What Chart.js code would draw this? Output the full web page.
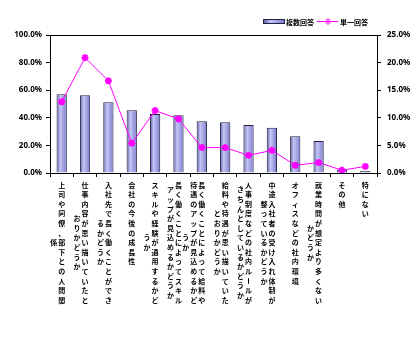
<!DOCTYPE html>
<html>
<head>
<meta charset="utf-8">
<script src="https://cdn.jsdelivr.net/npm/chart.js@4.4.0/dist/chart.umd.min.js"></script>
<style>
html, body { margin: 0; padding: 0; background: #fff; }
</style>
</head>
<body>
<canvas id="myChart" width="414" height="359"></canvas>
<script>
// categories (vertical text, wrapped every 13 chars like the original)
const categories = [
    '上司や同僚、部下との人間関係',
    '仕事内容が思い描いていたとおりかどうか',
    '入社先で長く働くことができるかどうか',
    '会社の今後の成長性',
    'スキルや経験が通用するかどうか',
    '長く働くことによってスキルアップが見込めるかどうか',
    '長く働くことによって給料や待遇のアップが見込めるかどうか',
    '給料や待遇が思い描いていたとおりかどうか',
    '人事制度などの社内ルールがきちんとしているかどうか',
    '中途入社者の受け入れ体制が整っているかどうか',
    'オフィスなどの社内環境',
    '就業時間が想定より多くないかどうか',
    'その他',
    '特にない'
];
const multiAnswer = [57.0, 56.3, 51.3, 45.5, 42.8, 41.9, 37.5, 36.8, 34.7, 32.7, 26.7, 23.1, 2.6, 1.4];
const singleAnswer = [12.9, 20.9, 16.7, 5.4, 11.3, 9.8, 4.6, 4.6, 3.2, 4.1, 1.4, 1.9, 0.5, 1.2];
const leftTicks = [0, 20, 40, 60, 80, 100];
const rightTicks = [0, 5, 10, 15, 20, 25];
const seriesNames = ['複数回答', '単一回答'];

const BAR_PCT = 0.44;
const LINE_COLOR = '#ff00ff';

function barGradient(c, x0, x1) {
    let g = c.createLinearGradient(x0, 0, x1, 0);
    g.addColorStop(0, '#55559a');
    g.addColorStop(0.35, '#c6c6f6');
    g.addColorStop(1, '#7a7acc');
    return g;
}

// draws the top frame line, vertical japanese labels and the legend
const extras = {
    id: 'extras',
    afterDraw(chart) {
        let c = chart.ctx;
        let a = chart.chartArea;
        let xs = chart.scales.x;
        c.save();
        c.strokeStyle = '#000';
        c.lineWidth = 1;
        c.beginPath();
        c.moveTo(a.left, Math.round(a.top) + 0.5);
        c.lineTo(a.right, Math.round(a.top) + 0.5);
        c.stroke();

        c.fillStyle = '#000';
        c.font = 'bold 7px "Noto Sans CJK JP"';
        c.textAlign = 'center';
        c.textBaseline = 'middle';
        let top = 185, pitch = 9.6;
        categories.forEach((label, i) => {
            let cols = [];
            for (let k = 0; k < label.length; k += 13) cols.push(label.slice(k, k + 13));
            let x0 = xs.getPixelForValue(i);
            let mid = top + (cols[0].length - 1) * pitch / 2;
            cols.forEach((col, j) => {
                let x = x0 - j * 8;
                let y0 = j === 0 ? top : mid - (col.length - 1) * pitch / 2;
                [...col].forEach((ch, r) => {
                    let y = y0 + r * pitch;
                    if (ch === 'ー') {
                        c.save();
                        c.translate(x, y);
                        c.rotate(Math.PI / 2);
                        c.fillText(ch, 0, 0);
                        c.restore();
                    } else {
                        c.fillText(ch, x, y);
                    }
                });
            });
        });

        // legend
        c.fillStyle = barGradient(c, 263, 285);
        c.fillRect(263, 19, 22, 5);
        c.strokeStyle = '#222244';
        c.strokeRect(263.5, 19.5, 21, 4);
        c.fillStyle = '#000';
        c.font = 'bold 7px "Noto Sans CJK JP"';
        c.textAlign = 'left';
        c.fillText(seriesNames[0], 286, 22);
        c.strokeStyle = LINE_COLOR;
        c.lineWidth = 1;
        c.beginPath();
        c.moveTo(317, 21.5);
        c.lineTo(338, 21.5);
        c.stroke();
        c.fillStyle = LINE_COLOR;
        Chart.helpers.drawPoint(c, {pointStyle: 'star', radius: 3.5, borderWidth: 2, rotation: 0}, 328, 21.5);
        c.fillStyle = '#000';
        c.fillText(seriesNames[1], 340, 22);
        c.restore();
    }
};

let ctx = document.getElementById('myChart').getContext('2d');
let myChart = new Chart(ctx, {
    type: 'bar',
    data: {
        labels: categories,
        datasets: [{
            type: 'line',
            label: seriesNames[1],
            data: singleAnswer,
            yAxisID: 'y1',
            borderColor: LINE_COLOR,
            borderWidth: 1,
            backgroundColor: LINE_COLOR,
            pointStyle: 'star',
            pointRadius: 3.5,
            pointBorderWidth: 2,
            pointBorderColor: LINE_COLOR,
            tension: 0,
            order: 0
        }, {
            type: 'bar',
            label: seriesNames[0],
            data: multiAnswer,
            yAxisID: 'y',
            backgroundColor: (context) => {
                let chart = context.chart;
                let xs = chart.scales.x;
                if (!chart.chartArea || !xs) return '#9a9ae0';
                let x = xs.getPixelForValue(context.dataIndex);
                let w = (chart.chartArea.right - chart.chartArea.left) / categories.length * BAR_PCT;
                return barGradient(chart.ctx, x - w / 2, x + w / 2);
            },
            borderColor: '#222244',
            borderWidth: 1,
            barPercentage: BAR_PCT,
            categoryPercentage: 1,
            order: 1
        }]
    },
    options: {
        responsive: false,
        animation: false,
        layout: { padding: { top: 35, left: 0, right: 0, bottom: 0 } },
        plugins: {
            legend: { display: false },
            tooltip: { enabled: false }
        },
        scales: {
            x: {
                offset: true,
                grid: { drawOnChartArea: false, offset: true, tickLength: 4, color: '#000' },
                border: { color: '#000' },
                ticks: { display: false },
                afterFit: (scale) => { scale.height = 186; }
            },
            y: {
                position: 'left',
                min: 0, max: 100,
                afterBuildTicks: (scale) => { scale.ticks = leftTicks.map(v => ({value: v})); },
                grid: { drawOnChartArea: false, tickLength: 4, color: '#000' },
                border: { color: '#000' },
                ticks: {
                    padding: 4,
                    color: '#000',
                    font: { family: 'Noto Sans', size: 8, weight: 'bold' },
                    callback: (v) => v.toFixed(1) + '%'
                },
                afterFit: (scale) => { scale.width = 50; }
            },
            y1: {
                position: 'right',
                min: 0, max: 25,
                afterBuildTicks: (scale) => { scale.ticks = rightTicks.map(v => ({value: v})); },
                grid: { drawOnChartArea: false, tickLength: 4, color: '#000' },
                border: { color: '#000' },
                ticks: {
                    padding: 6,
                    color: '#000',
                    font: { family: 'Noto Sans', size: 8, weight: 'bold' },
                    callback: (v) => v.toFixed(1) + '%'
                },
                afterFit: (scale) => { scale.width = 37; }
            }
        }
    },
    plugins: [extras]
});
</script>
</body>
</html>
